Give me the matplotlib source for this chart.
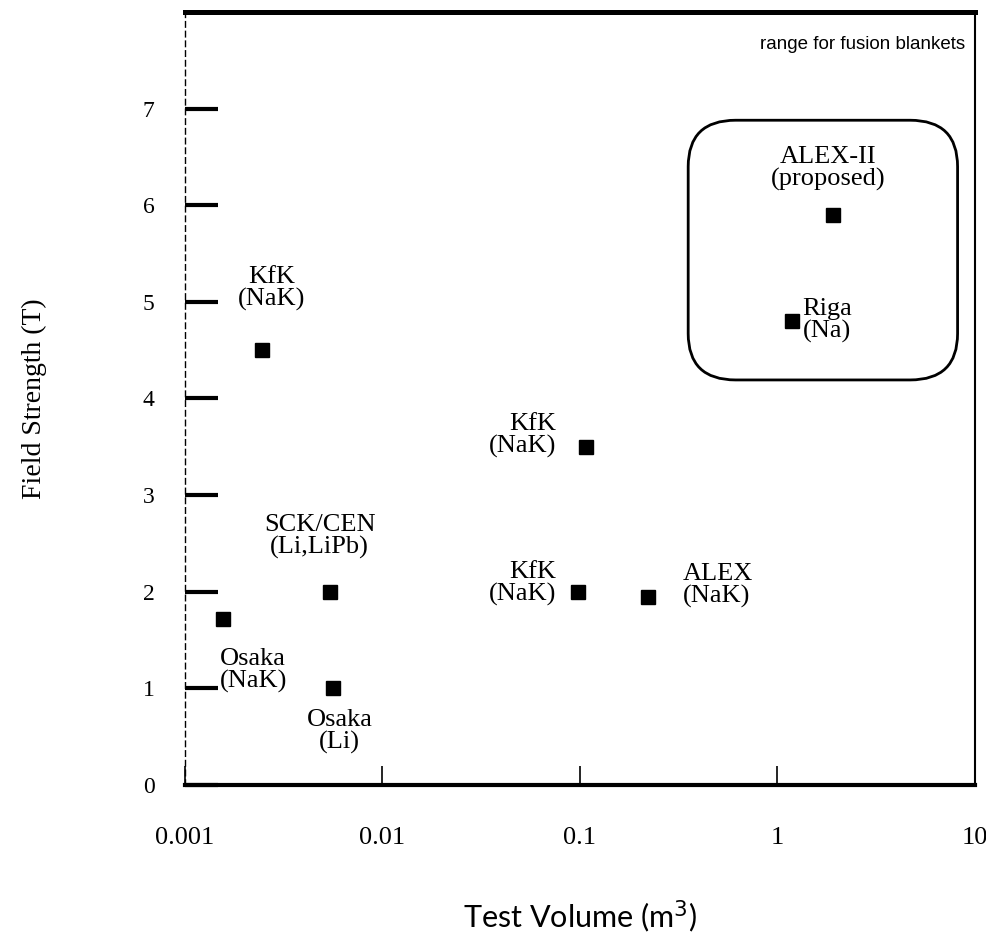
import matplotlib.pyplot as plt
from matplotlib.patches import FancyBboxPatch
from matplotlib.ticker import FixedLocator, NullLocator

plt.rcParams['font.family'] = ['Liberation Serif', 'DejaVu Serif']

# MHD test facilities: name, working fluid, test volume (m^3), field (T)
names = ['Osaka', 'KfK', 'SCK/CEN', 'Osaka', 'KfK', 'KfK', 'ALEX', 'Riga', 'ALEX-II']
fluids = ['(NaK)', '(NaK)', '(Li,LiPb)', '(Li)', '(NaK)', '(NaK)', '(NaK)', '(Na)', '(proposed)']
volume = [0.00156, 0.00245, 0.0054, 0.0056, 0.107, 0.098, 0.22, 1.18, 1.91]
field = [1.72, 4.5, 2.0, 1.0, 3.5, 2.0, 1.95, 4.8, 5.9]

xticks = [0.001, 0.01, 0.1, 1, 10]
xtick_labels = ['0.001', '0.01', '0.1', '1', '10']
yticks = [0, 1, 2, 3, 4, 5, 6, 7]

# label placement (offset in pixels from the marker, alignment)
offsets = [(30, -52, 'center'), (10, 62, 'center'), (-10, 55, 'center'),
           (7, -43, 'center'), (-30, 11, 'right'), (-22, 8, 'right'),
           (35, 11, 'left'), (11, 1, 'left'), (-5, 46, 'center')]

fig = plt.figure(figsize=(9.87, 9.47), dpi=100)
ax = fig.add_axes([0.1874, 0.1711, 0.8004, 0.8162])

ax.plot(volume, field, 's', color='black', ms=9.5, ls='none')

for n, f, x, y, (dx, dy, ha) in zip(names, fluids, volume, field, offsets):
    ax.annotate(n + '\n' + f, (x, y), xytext=(dx, dy), textcoords='offset pixels',
                ha=ha, va='center', fontsize=19, linespacing=1.0)

# fusion blanket region
box = FancyBboxPatch((0.637, 0.524), 0.341, 0.336, transform=ax.transAxes,
                     boxstyle='round,pad=0,rounding_size=0.06',
                     fill=False, ec='black', lw=2)
ax.add_patch(box)
ax.text(0.987, 0.958, 'range for fusion blankets', transform=ax.transAxes,
        ha='right', va='center', fontsize=13.5, family=['Liberation Sans'])

ax.set_xscale('log')
ax.set_xlim(0.001, 10)
ax.set_ylim(0, 8)
ax.xaxis.set_major_locator(FixedLocator(xticks))
ax.xaxis.set_minor_locator(NullLocator())
ax.set_xticklabels(xtick_labels)
ax.set_yticks(yticks)

ax.tick_params(axis='x', direction='in', length=14, width=1.2, pad=30, labelsize=19,
               top=False)
ax.tick_params(axis='y', direction='in', length=24, width=3, pad=22, labelsize=17,
               right=False)

ax.spines['top'].set_linewidth(3.6)
ax.spines['bottom'].set_linewidth(3)
ax.spines['left'].set_linewidth(1)
ax.spines['left'].set_linestyle((0, (4, 3)))
ax.spines['right'].set_linewidth(1.5)

ax.set_xlabel('Test Volume (m$^3$)', fontsize=22, family=['Lato'], labelpad=36)
ax.set_ylabel('Field Strength (T)', fontsize=20, labelpad=69)

fig.savefig('out.png', dpi=100)
